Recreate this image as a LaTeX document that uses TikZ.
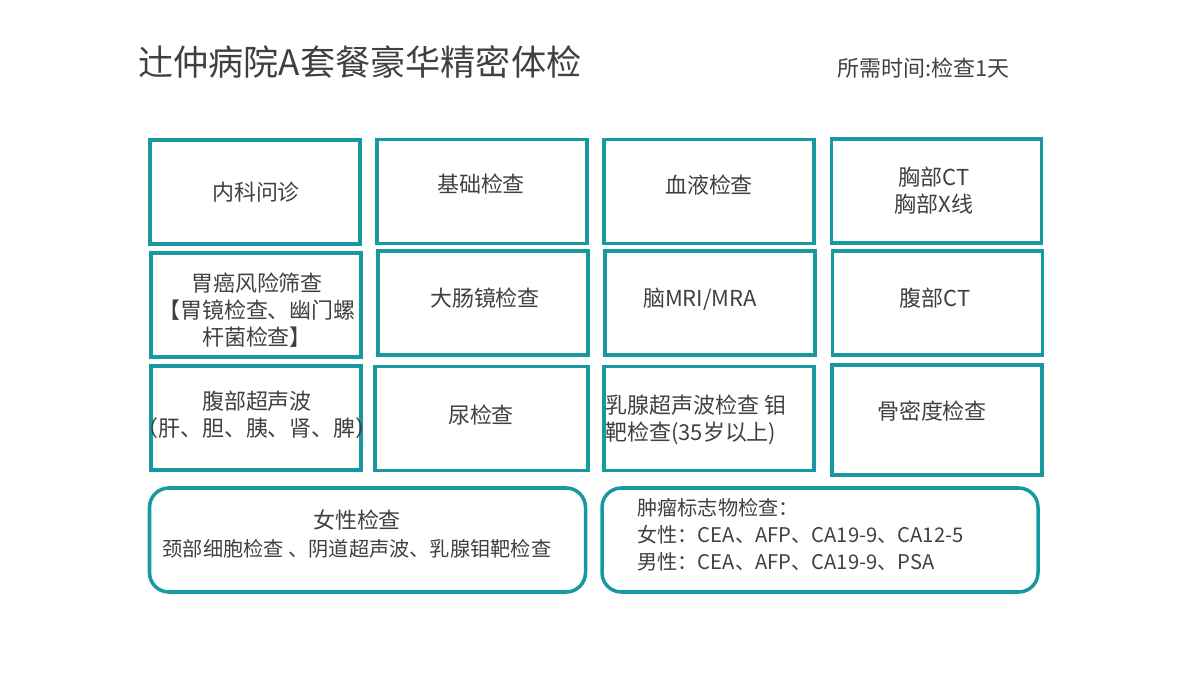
\documentclass[tikz,border=0pt]{standalone}
\usepackage{fontspec}
\setmainfont{Noto Sans CJK SC}
\definecolor{teal1}{RGB}{24,152,160}
\definecolor{ink}{RGB}{64,64,64}
\tikzset{
  box/.style={draw=teal1,line width=2pt,minimum width=210*0.02cm,minimum height=104*0.02cm,inner sep=0pt},
  rbox/.style={box,rounded corners=11pt,minimum width=436*0.02cm},
  txt/.style={text=ink,font=\fontsize{12.5}{15.5}\selectfont,align=center,inner sep=0pt},
  stxt/.style={txt,font=\fontsize{11.5}{15.5}\selectfont}
}
\begin{document}
\begin{tikzpicture}[x=0.02cm,y=-0.02cm]
		\useasboundingbox (0,0) rectangle (1200,675);
		% title
		\node[txt,anchor=west,font=\fontsize{20}{24}\selectfont] (title) at (138,62) {辻仲病院A套餐豪华精密体检};
		\node[txt,anchor=west,font=\fontsize{12.5}{14}\selectfont] (time) at (837,68) {所需时间:检查1天};
		% row 1
		\node[box] (neike) at (255,192) {};
		\node[box] (jichu) at (482,191.5) {};
		\node[box] (xueye) at (709,191.5) {};
		\node[box] (xiongbu) at (936.5,191) {};
		\node[txt] (neike-t) at (256,192) {内科问诊};
		\node[txt] (jichu-t) at (481,184) {基础检查};
		\node[txt] (xueye-t) at (709,185) {血液检查};
		\node[txt] (xiongbu-t) at (934,191) {胸部CT\\胸部X线};
		% row 2
		\node[box] (weiai) at (256,305) {};
		\node[box] (dachang) at (483,303) {};
		\node[box] (nao) at (710,303) {};
		\node[box] (fubuct) at (937.5,303) {};
		\node[txt] (weiai-t) at (257,310) {胃癌风险筛查\\【胃镜检查、幽门螺\\杆菌检查】};
		\node[txt] (dachang-t) at (485,298) {大肠镜检查};
		\node[txt] (nao-t) at (700,299) {脑MRI/MRA};
		\node[txt] (fubuct-t) at (935,298) {腹部CT};
		% row 3
		\node[box] (chaosheng) at (256,418) {};
		\node[box,minimum width=213*0.02cm] (niao) at (481.5,418.5) {};
		\node[box] (ruxian) at (709,418.5) {};
		\node[box,minimum height=110*0.02cm] (gumi) at (937,420) {};
		\node[txt] (chaosheng-t) at (257,415) {腹部超声波\\（肝、胆、胰、肾、脾）};
		\node[txt] (niao-t) at (481,415) {尿检查};
		\node[txt,anchor=west,align=left] (ruxian-t) at (605,420) {乳腺超声波检查 钼\\靶检查(35岁以上)};
		\node[txt] (gumi-t) at (932,411) {骨密度检查};
		% bottom row
		\node[rbox] (nvxing) at (367.5,540) {};
		\node[rbox] (zhongliu) at (820,540) {};
		\node[stxt] (nvxing-t) at (357,534) {{\fontsize{12.5}{15}\selectfont 女性检查}\\颈部细胞检查 、阴道超声波、乳腺钼靶检查};
		\node[stxt,anchor=west,align=left] (zhongliu-t) at (637,535) {肿瘤标志物检查：\\女性：CEA、AFP、CA19-9、CA12-5\\男性：CEA、AFP、CA19-9、PSA};
\end{tikzpicture}
\end{document}
